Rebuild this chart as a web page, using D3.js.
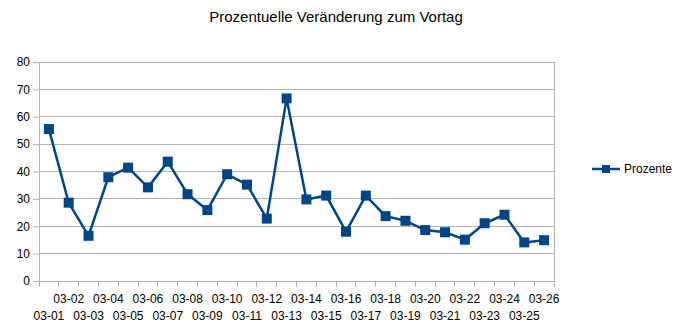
<!DOCTYPE html>
<html><head><meta charset="utf-8">
<script src="https://cdn.jsdelivr.net/npm/d3@7"></script>
<style>body{margin:0;background:#fff}svg{display:block;font-family:"Liberation Sans",Arial,sans-serif}</style>
</head><body>
<svg id="c" width="677" height="327"></svg>
<script>
const categories = ["03-01","03-02","03-03","03-04","03-05","03-06","03-07","03-08","03-09","03-10","03-11","03-12","03-13","03-14","03-15","03-16","03-17","03-18","03-19","03-20","03-21","03-22","03-23","03-24","03-25","03-26"];
const prozente = [55.5,28.6,16.5,37.9,41.4,34.2,43.6,31.7,25.9,39.0,35.2,22.8,66.7,29.8,31.2,18.0,31.2,23.7,22.0,18.6,17.8,15.1,21.1,24.2,14.1,14.9];
const yTicks = [0,10,20,30,40,50,60,70,80];
const title = "Prozentuelle Veränderung zum Vortag";
const seriesName = "Prozente";

const svg = d3.select("#c");
const L = 39, R = 554, T = 62, B = 281;
const x = d3.scaleBand().domain(categories).range([L, R]);
const y = d3.scaleLinear().domain([0, 80]).range([B, T]);
const gridC = "#b3b3b3", lineC = "#004586";

svg.append("text").attr("x", 336).attr("y", 22).attr("text-anchor", "middle")
  .attr("font-size", 15).attr("fill", "#000").text(title);

// gridlines
svg.append("g").selectAll("line").data(yTicks).join("line")
  .attr("x1", L).attr("x2", R).attr("y1", d => y(d)).attr("y2", d => y(d))
  .attr("stroke", gridC).attr("stroke-width", 1).attr("shape-rendering", "crispEdges");
// right border
svg.append("line").attr("x1", R).attr("x2", R).attr("y1", T).attr("y2", B)
  .attr("stroke", gridC).attr("shape-rendering", "crispEdges");

// y axis
const ya = svg.append("g").attr("transform", `translate(${L},0)`)
  .call(d3.axisLeft(y).tickValues(yTicks).tickSize(6).tickPadding(3));
ya.select(".domain").attr("stroke", gridC);
ya.selectAll(".tick line").attr("stroke", gridC);
ya.selectAll("text").attr("font-size", 12).attr("fill", "#000").attr("font-family", "Liberation Sans, Arial, sans-serif");

// x axis
const xa = svg.append("g").attr("transform", `translate(0,${B})`)
  .call(d3.axisBottom(x).tickSize(0).tickFormat(""));
xa.select(".domain").attr("stroke", gridC);
xa.selectAll(".tick").remove();
const bounds = categories.map(c => x(c)).concat([R]);
xa.selectAll("line.tk").data(bounds).join("line").attr("class", "tk")
  .attr("x1", d => d).attr("x2", d => d).attr("y1", 0).attr("y2", 6)
  .attr("stroke", gridC).attr("shape-rendering", "crispEdges");
xa.selectAll("text.lb").data(categories).join("text").attr("class", "lb")
  .attr("x", d => x(d) + x.bandwidth() / 2)
  .attr("y", (d, i) => i % 2 === 1 ? 22 : 39)
  .attr("text-anchor", "middle").attr("font-size", 12).attr("fill", "#000")
  .attr("font-family", "Liberation Sans, Arial, sans-serif").text(d => d);

// line
const cx = (d, i) => x(categories[i]) + x.bandwidth() / 2;
svg.append("path").datum(prozente)
  .attr("d", d3.line().x(cx).y(d => y(d)))
  .attr("fill", "none").attr("stroke", lineC).attr("stroke-width", 2.5).attr("stroke-linejoin", "round");
svg.append("g").selectAll("rect").data(prozente).join("rect")
  .attr("x", (d, i) => cx(d, i) - 5).attr("y", d => y(d) - 5)
  .attr("width", 10).attr("height", 10).attr("fill", lineC);

// legend
const lg = svg.append("g");
lg.append("line").attr("x1", 592).attr("x2", 620).attr("y1", 169).attr("y2", 169)
  .attr("stroke", lineC).attr("stroke-width", 2.5);
lg.append("rect").attr("x", 602).attr("y", 165).attr("width", 8).attr("height", 8).attr("fill", lineC);
lg.append("text").attr("x", 624).attr("y", 173).attr("font-size", 12).attr("fill", "#000").text(seriesName);
</script>
</body></html>
